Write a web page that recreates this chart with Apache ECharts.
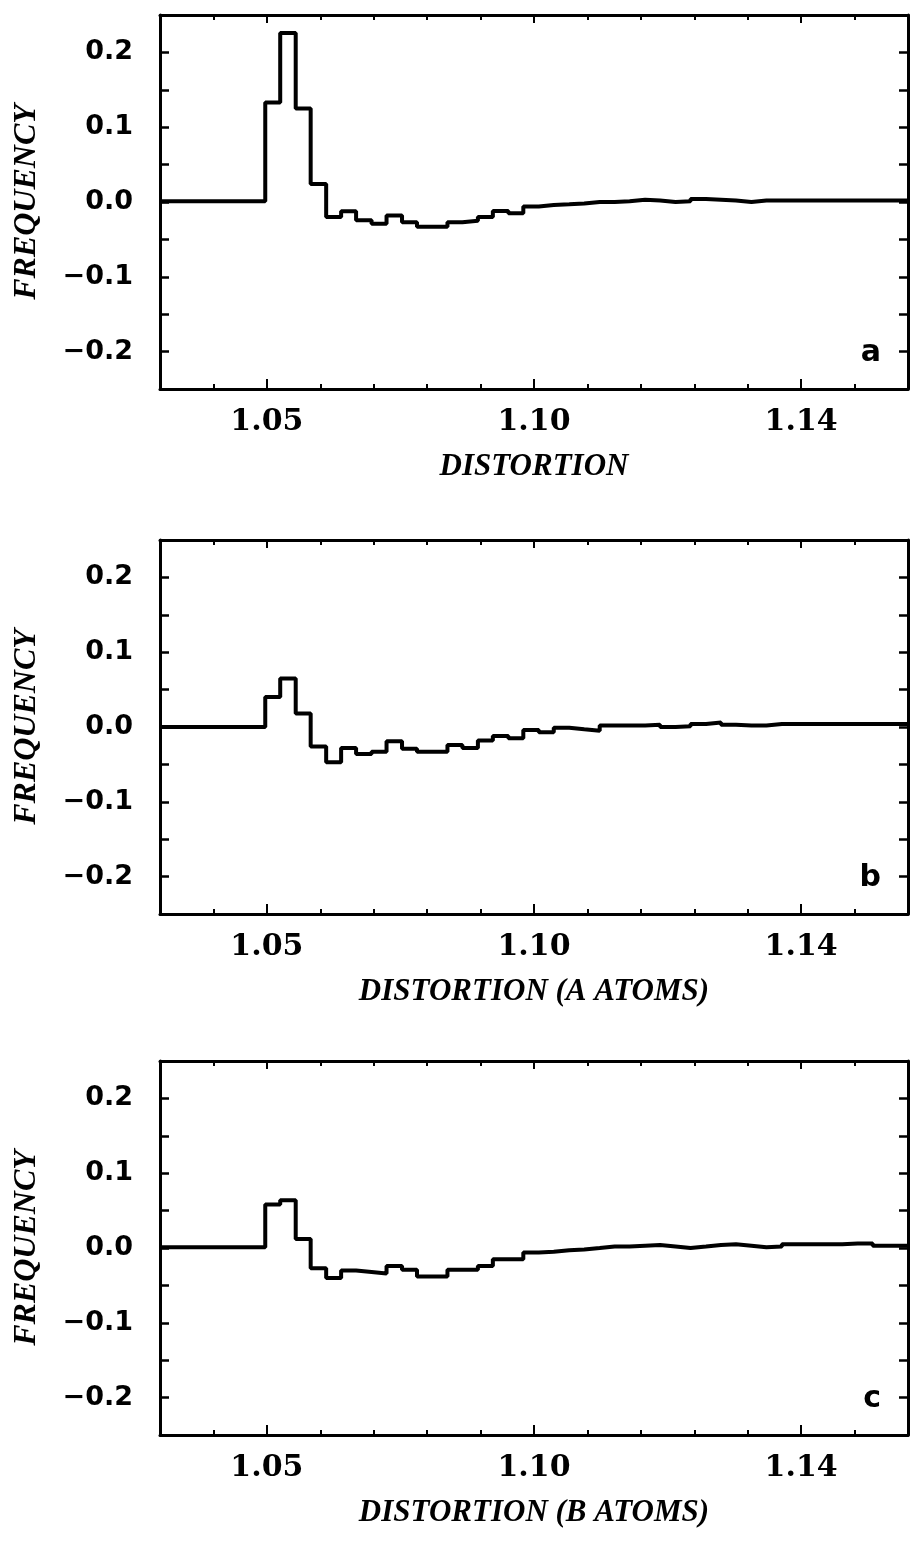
<!DOCTYPE html>
<html>
<head>
<meta charset="utf-8">
<script src="https://cdn.jsdelivr.net/npm/echarts@6/dist/echarts.min.js"></script>
<style>
  html, body { margin: 0; padding: 0; background: #fff; }
  #chart { width: 910px; height: 1542px; }
</style>
</head>
<body>
<div id="chart"></div>
<script>
// histogram bin edges (distortion), same bins for all three panels
const binEdges = [1.03, 1.0497, 1.0525, 1.0554, 1.0582, 1.0611, 1.0639, 1.0667, 1.0696, 1.0724,
  1.0753, 1.0781, 1.0810, 1.0838, 1.0866, 1.0895, 1.0923, 1.0952, 1.0980, 1.1009,
  1.1037, 1.1066, 1.1094, 1.1123, 1.1151, 1.1179, 1.1208, 1.1236, 1.1265, 1.1293,
  1.1322, 1.1350, 1.1378, 1.1407, 1.1435, 1.1464, 1.1492, 1.1521, 1.1549, 1.1577,
  1.1606, 1.1634, 1.1663, 1.17];

// frequency per bin, panel a (all atoms)
const freqA = [0.001, 0.133, 0.226, 0.125, 0.024, -0.020, -0.0125, -0.0245, -0.029, -0.018,
  -0.027, -0.033, -0.033, -0.027, -0.025, -0.020, -0.012, -0.015, -0.006, -0.004,
  -0.003, -0.002, 0.000, 0.000, 0.001, 0.003, 0.002, 0.000, 0.001, 0.004,
  0.003, 0.002, 0.000, 0.002, 0.002, 0.002, 0.002, 0.002, 0.002, 0.002,
  0.002, 0.002, 0.002];
// panel b (A atoms)
const freqB = [0.000, 0.040, 0.065, 0.018, -0.026, -0.047, -0.028, -0.036, -0.033, -0.019,
  -0.029, -0.033, -0.033, -0.024, -0.028, -0.018, -0.012, -0.015, -0.004, -0.007,
  -0.001, -0.003, -0.005, 0.002, 0.002, 0.002, 0.003, 0.000, 0.001, 0.004,
  0.006, 0.003, 0.002, 0.002, 0.004, 0.004, 0.004, 0.004, 0.004, 0.004,
  0.004, 0.004, 0.004];
// panel c (B atoms)
const freqC = [0.001, 0.058, 0.064, 0.012, -0.027, -0.040, -0.030, -0.032, -0.034, -0.024,
  -0.029, -0.038, -0.038, -0.029, -0.029, -0.024, -0.015, -0.015, -0.006, -0.005,
  -0.003, -0.002, 0.000, 0.002, 0.002, 0.003, 0.004, 0.002, 0.000, 0.002,
  0.004, 0.005, 0.003, 0.001, 0.002, 0.005, 0.005, 0.005, 0.005, 0.006,
  0.006, 0.003, 0.003];

// axis ticks and labels
const xLabelValues = [1.05, 1.10, 1.15];
const xLabelTexts = ['1.05', '1.10', '1.14'];
const xMinorValues = [1.03, 1.04, 1.05, 1.06, 1.07, 1.08, 1.09, 1.10, 1.11, 1.12, 1.13, 1.14, 1.15, 1.16, 1.17];
const yTickValues = [-0.25, -0.2, -0.15, -0.1, -0.05, 0, 0.05, 0.1, 0.15, 0.2, 0.25];
const yLabelValues = [-0.2, -0.1, 0, 0.1, 0.2];
const yLabelTexts = ['\u22120.2', '\u22120.1', '0.0', '0.1', '0.2'];

const panelLetters = ['a', 'b', 'c'];
const xTitles = ['DISTORTION', 'DISTORTION (A ATOMS)', 'DISTORTION (B ATOMS)'];
const panelData = [freqA, freqB, freqC];

const gridTops = [15, 540, 1061];
const gridHeight = 374;

const labelFor = (vals, texts) => (v) => {
  const i = vals.findIndex((t) => Math.abs(t - v) < 1e-6);
  return i >= 0 ? texts[i] : '';
};

const lineStyle = { color: '#000', width: 3 };
const grids = [], xAxes = [], yAxes = [], series = [], titles = [];

panelData.forEach((freq, g) => {
  grids.push({ left: 160, width: 748, top: gridTops[g], height: gridHeight });

  const baseX = { type: 'value', gridIndex: g, min: 1.03, max: 1.17, splitLine: { show: false } };
  // bottom, labelled, major ticks
  xAxes.push(Object.assign({}, baseX, {
    position: 'bottom',
    axisLine: { show: true, onZero: false, lineStyle },
    axisTick: { show: true, inside: true, length: 10, customValues: xLabelValues, lineStyle: { color: '#000', width: 2 } },
    axisLabel: {
      customValues: xLabelValues, formatter: labelFor(xLabelValues, xLabelTexts),
      margin: 18, color: '#000', fontFamily: 'DejaVu Serif', fontWeight: 'bold', fontSize: 30
    },
    name: xTitles[g], nameLocation: 'middle', nameGap: 62,
    nameTextStyle: { color: '#000', fontFamily: 'Liberation Serif', fontStyle: 'italic', fontWeight: 'bold', fontSize: 31 }
  }));
  // bottom, minor ticks
  xAxes.push(Object.assign({}, baseX, {
    position: 'bottom',
    axisLine: { show: false, onZero: false },
    axisTick: { show: true, inside: true, length: 5, customValues: xMinorValues, lineStyle: { color: '#000', width: 2 } },
    axisLabel: { show: false }
  }));
  // top, major ticks
  xAxes.push(Object.assign({}, baseX, {
    position: 'top',
    axisLine: { show: true, onZero: false, lineStyle },
    axisTick: { show: true, inside: true, length: 8, customValues: xLabelValues, lineStyle: { color: '#000', width: 2 } },
    axisLabel: { show: false }
  }));
  // top, minor ticks
  xAxes.push(Object.assign({}, baseX, {
    position: 'top',
    axisLine: { show: false, onZero: false },
    axisTick: { show: true, inside: true, length: 5, customValues: xMinorValues, lineStyle: { color: '#000', width: 2 } },
    axisLabel: { show: false }
  }));

  const baseY = { type: 'value', gridIndex: g, min: -0.25, max: 0.25, splitLine: { show: false } };
  yAxes.push(Object.assign({}, baseY, {
    position: 'left',
    axisLine: { show: true, onZero: false, lineStyle },
    axisTick: { show: true, inside: true, length: 9, customValues: yTickValues, lineStyle: { color: '#000', width: 2.5 } },
    axisLabel: {
      customValues: yLabelValues, formatter: labelFor(yLabelValues, yLabelTexts),
      margin: 27, color: '#000', fontFamily: 'DejaVu Sans', fontWeight: 'bold', fontSize: 27
    },
    name: 'FREQUENCY', nameLocation: 'middle', nameGap: 117,
    nameTextStyle: { color: '#000', fontFamily: 'Liberation Serif', fontStyle: 'italic', fontWeight: 'bold', fontSize: 32 }
  }));
  yAxes.push(Object.assign({}, baseY, {
    position: 'right',
    axisLine: { show: true, onZero: false, lineStyle },
    axisTick: { show: true, inside: true, length: 9, customValues: yTickValues, lineStyle: { color: '#000', width: 2.5 } },
    axisLabel: { show: false }
  }));

  series.push({
    type: 'line',
    step: 'end',
    xAxisIndex: g * 4,
    yAxisIndex: g * 2,
    symbol: 'none',
    lineStyle: { color: '#000', width: 4 },
    data: binEdges.map((x, i) => [x, freq[Math.min(i, freq.length - 1)]])
  });

  titles.push({
    text: panelLetters[g], right: 24, top: gridTops[g] + 318,
    textStyle: { color: '#000', fontFamily: 'DejaVu Sans', fontWeight: 'bold', fontSize: 30 }
  });
});

const chart = echarts.init(document.getElementById('chart'));
chart.setOption({
  animation: false,
  backgroundColor: '#fff',
  title: titles,
  grid: grids,
  xAxis: xAxes,
  yAxis: yAxes,
  series: series
});
</script>
</body>
</html>
